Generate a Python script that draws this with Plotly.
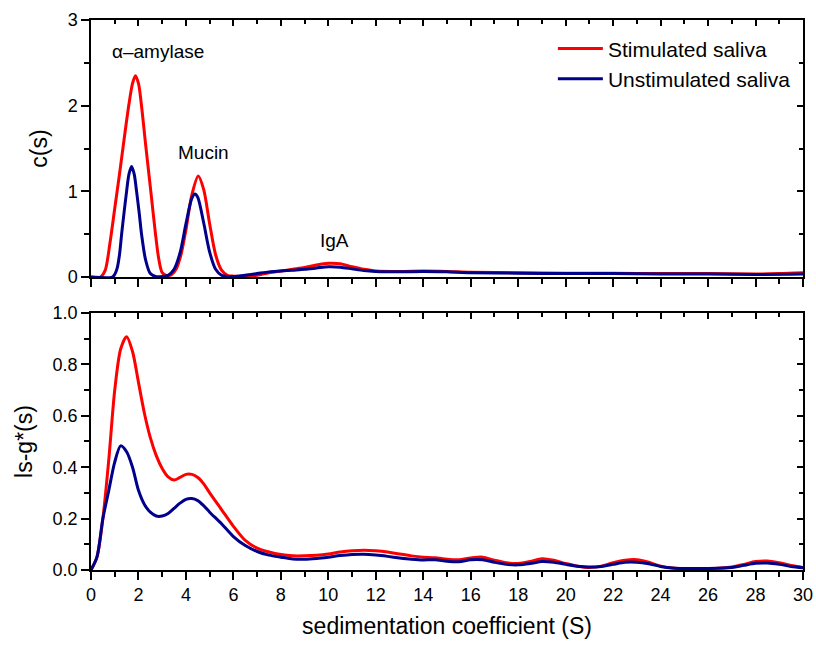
import plotly.graph_objects as go

# ---------------- data ----------------
# Top panel: c(s)
cs_stim_x = [0, 0.4, 0.6, 0.8, 1.0, 1.2, 1.4, 1.6, 1.75, 1.87, 2.0, 2.12, 2.3, 2.54, 2.71, 2.85, 3.0,
             3.2, 3.4, 3.6, 3.8, 4.0, 4.25, 4.52, 4.75, 5.0, 5.25, 5.5, 5.75, 6.0, 6.5, 7, 7.5, 8, 8.5, 9, 9.5,
             10, 10.5, 11, 11.5, 12, 13, 14, 15, 16, 18, 20, 22, 24, 26, 28, 29, 30]
cs_stim_y = [0, 0, 0.08, 0.4, 0.8, 1.2, 1.62, 2.02, 2.26, 2.35, 2.26, 2.02, 1.55, 0.95, 0.52, 0.22, 0.05,
             0.015, 0.03, 0.1, 0.27, 0.55, 0.96, 1.18, 1.02, 0.62, 0.26, 0.08, 0.02, 0.01, 0.01, 0.02, 0.05, 0.07, 0.09, 0.11, 0.14,
             0.16, 0.155, 0.12, 0.09, 0.07, 0.065, 0.07, 0.065, 0.055, 0.05, 0.045, 0.045, 0.04, 0.04, 0.035, 0.04, 0.05]

cs_unst_x = [0, 0.9, 1.0, 1.1, 1.2, 1.29, 1.4, 1.5, 1.6, 1.71, 1.82, 1.92, 2.03, 2.13, 2.3, 2.5, 2.75, 3.0, 3.25,
             3.5, 3.75, 4.0, 4.25, 4.38, 4.5, 4.75, 5.0, 5.25, 5.5, 5.75, 6.0, 6.5, 7, 7.5, 8, 8.5, 9, 9.5, 10,
             10.5, 11, 11.5, 12, 13, 14, 15, 16, 18, 20, 22, 24, 26, 28, 30]
cs_unst_y = [0, 0, 0.03, 0.1, 0.26, 0.5, 0.77, 1.0, 1.2, 1.29, 1.2, 1.0, 0.75, 0.5, 0.2, 0.04, 0.005, 0.005, 0.02,
             0.09, 0.28, 0.62, 0.92, 0.97, 0.93, 0.63, 0.29, 0.09, 0.02, 0.005, 0.005, 0.02, 0.04, 0.06, 0.07, 0.08, 0.09, 0.105, 0.12,
             0.115, 0.095, 0.075, 0.065, 0.06, 0.065, 0.06, 0.05, 0.045, 0.04, 0.04, 0.035, 0.035, 0.03, 0.035]

# Bottom panel: ls-g*(s)
g_x = [0, 0.25, 0.5, 0.75, 1.0, 1.25, 1.5, 1.75, 2.0, 2.25, 2.5, 2.75, 3.0, 3.25, 3.5, 3.75, 4.0, 4.25, 4.5,
       4.75, 5.0, 5.5, 6.0, 6.5, 7.0, 7.5, 8, 8.5, 9, 9.5, 10, 10.5, 11, 11.5, 12, 12.5, 13, 13.5, 14, 14.5,
       15, 15.5, 16, 16.5, 17, 17.5, 18, 18.5, 19, 19.5, 20, 20.5, 21, 21.5, 22, 22.5, 23, 23.5, 24, 24.5,
       25, 26, 27, 27.5, 28, 28.5, 29, 29.5, 30]
g_stim_y = [0, 0.05, 0.2, 0.43, 0.7, 0.86, 0.908, 0.85, 0.73, 0.61, 0.515, 0.445, 0.395, 0.362, 0.35, 0.36, 0.372, 0.372, 0.36,
            0.335, 0.30, 0.235, 0.17, 0.115, 0.085, 0.07, 0.06, 0.055, 0.055, 0.057, 0.062, 0.07, 0.075, 0.077, 0.075, 0.07, 0.062, 0.055, 0.05, 0.048,
            0.042, 0.04, 0.047, 0.05, 0.038, 0.028, 0.025, 0.033, 0.044, 0.038, 0.025, 0.015, 0.01, 0.015, 0.028, 0.038, 0.04, 0.03, 0.015, 0.008,
            0.005, 0.005, 0.012, 0.022, 0.033, 0.035, 0.028, 0.018, 0.01]
g_unst_y = [0, 0.05, 0.2, 0.31, 0.42, 0.483, 0.46, 0.4, 0.31, 0.255, 0.225, 0.21, 0.21, 0.22, 0.24, 0.26, 0.275, 0.278, 0.27,
            0.25, 0.225, 0.18, 0.13, 0.095, 0.072, 0.058, 0.05, 0.043, 0.042, 0.045, 0.05, 0.056, 0.06, 0.061, 0.058, 0.053, 0.047, 0.042, 0.039, 0.04,
            0.034, 0.032, 0.04, 0.04, 0.03, 0.022, 0.02, 0.025, 0.033, 0.03, 0.022, 0.015, 0.012, 0.014, 0.022, 0.03, 0.03, 0.024, 0.014, 0.008,
            0.006, 0.006, 0.01, 0.018, 0.026, 0.027, 0.022, 0.014, 0.009]

series_names = ["Stimulated saliva", "Unstimulated saliva"]
series_colors = ["#ff0000", "#00008b"]

peak_labels = ["α–amylase", "Mucin", "IgA"]
peak_label_x = [2.82, 4.76, 10.28]
peak_label_y = [2.63, 1.45, 0.43]

x_title = "sedimentation coefficient (S)"
y_title_top = "c(s)"
y_title_bottom = "ls-g*(s)"

# ---------------- figure ----------------
FONT = "Liberation Sans, Arial, sans-serif"
fig = go.Figure()

def line(c):
    return dict(color=c, width=3, shape="spline", smoothing=0.8)

fig.add_trace(go.Scatter(x=cs_stim_x, y=cs_stim_y, mode="lines", name=series_names[0],
                         line=line(series_colors[0]), xaxis="x", yaxis="y"))
fig.add_trace(go.Scatter(x=cs_unst_x, y=cs_unst_y, mode="lines", name=series_names[1],
                         line=line(series_colors[1]), xaxis="x", yaxis="y"))
fig.add_trace(go.Scatter(x=g_x, y=g_stim_y, mode="lines", name=series_names[0], showlegend=False,
                         line=line(series_colors[0]), xaxis="x2", yaxis="y2"))
fig.add_trace(go.Scatter(x=g_x, y=g_unst_y, mode="lines", name=series_names[1], showlegend=False,
                         line=line(series_colors[1]), xaxis="x2", yaxis="y2"))
# empty traces so the mirror (inside-tick) axes get drawn
for xa, ya in [("x3", "y3"), ("x4", "y4")]:
    fig.add_trace(go.Scatter(x=[None], y=[None], mode="lines", showlegend=False, hoverinfo="skip",
                             xaxis=xa, yaxis=ya))

tickfont = dict(family=FONT, size=18, color="black")
TW = 1.5

def xax(**kw):
    d = dict(range=[0, 30], dtick=2, tick0=0, ticks="outside", ticklen=8, tickwidth=TW,
             tickcolor="black", showline=True, linecolor="black", linewidth=TW,
             showgrid=False, zeroline=False, automargin=False,
             minor=dict(dtick=1, tick0=0, ticks="outside", ticklen=5, tickwidth=TW, tickcolor="black", showgrid=False))
    d.update(kw)
    return d

def yax(rng, dt, mdt, **kw):
    d = dict(range=rng, dtick=dt, tick0=0, ticks="outside", ticklen=8, tickwidth=TW,
             tickcolor="black", showline=True, linecolor="black", linewidth=TW,
             showgrid=False, zeroline=False, automargin=False, tickfont=tickfont,
             minor=dict(dtick=mdt, tick0=0, ticks="outside", ticklen=5, tickwidth=TW, tickcolor="black", showgrid=False))
    d.update(kw)
    return d

top_dom = [0.5327, 1]
bot_dom = [0, 0.4673]
titlefont = dict(family=FONT, size=23, color="black")

fig.update_layout(
    width=816, height=646,
    margin=dict(l=91, r=13, t=20, b=76),
    paper_bgcolor="white", plot_bgcolor="white",
    font=dict(family=FONT, color="black"),
    xaxis=xax(domain=[0, 1], anchor="y", showticklabels=False),
    yaxis=yax([0, 3], 1, 0.5, domain=top_dom, anchor="x",
              title=dict(text=y_title_top, font=titlefont, standoff=14)),
    xaxis2=xax(domain=[0, 1], anchor="y2", tickfont=tickfont,
               title=dict(text=x_title, font=titlefont, standoff=14)),
    yaxis2=yax([0, 1.0], 0.2, 0.1, domain=bot_dom, anchor="x2", tickformat=".1f",
               title=dict(text=y_title_bottom, font=titlefont, standoff=14)),
    # mirror axes with inward ticks (top/right of each panel)
    xaxis3=xax(domain=[0, 1], anchor="y", overlaying="x", side="top", ticks="inside", ticklen=6,
               showticklabels=False, minor=dict(dtick=1, tick0=0, ticks="inside", ticklen=4, tickwidth=TW, tickcolor="black")),
    yaxis3=yax([0, 3], 1, 0.5, domain=top_dom, anchor="x", overlaying="y", side="right", ticks="inside", ticklen=6,
               showticklabels=False, minor=dict(dtick=0.5, tick0=0, ticks="inside", ticklen=4, tickwidth=TW, tickcolor="black")),
    xaxis4=xax(domain=[0, 1], anchor="y2", overlaying="x2", side="top", ticks="inside", ticklen=6,
               showticklabels=False, minor=dict(dtick=1, tick0=0, ticks="inside", ticklen=4, tickwidth=TW, tickcolor="black")),
    yaxis4=yax([0, 1.0], 0.2, 0.1, domain=bot_dom, anchor="x2", overlaying="y2", side="right", ticks="inside", ticklen=6,
               showticklabels=False, minor=dict(dtick=0.1, tick0=0, ticks="inside", ticklen=4, tickwidth=TW, tickcolor="black")),
    legend=dict(x=0.99, y=0.985, xanchor="right", yanchor="top", bgcolor="rgba(0,0,0,0)",
                font=dict(family=FONT, size=21), tracegroupgap=0, itemwidth=45),
    showlegend=True,
)

for txt, ax, ay in zip(peak_labels, peak_label_x, peak_label_y):
    fig.add_annotation(x=ax, y=ay, xref="x", yref="y", text=txt, showarrow=False,
                       font=dict(family=FONT, size=19, color="black"))

fig.write_html("out.html", config={"displayModeBar": False},
               post_script="document.body.style.margin='0';document.body.style.overflow='hidden';")
